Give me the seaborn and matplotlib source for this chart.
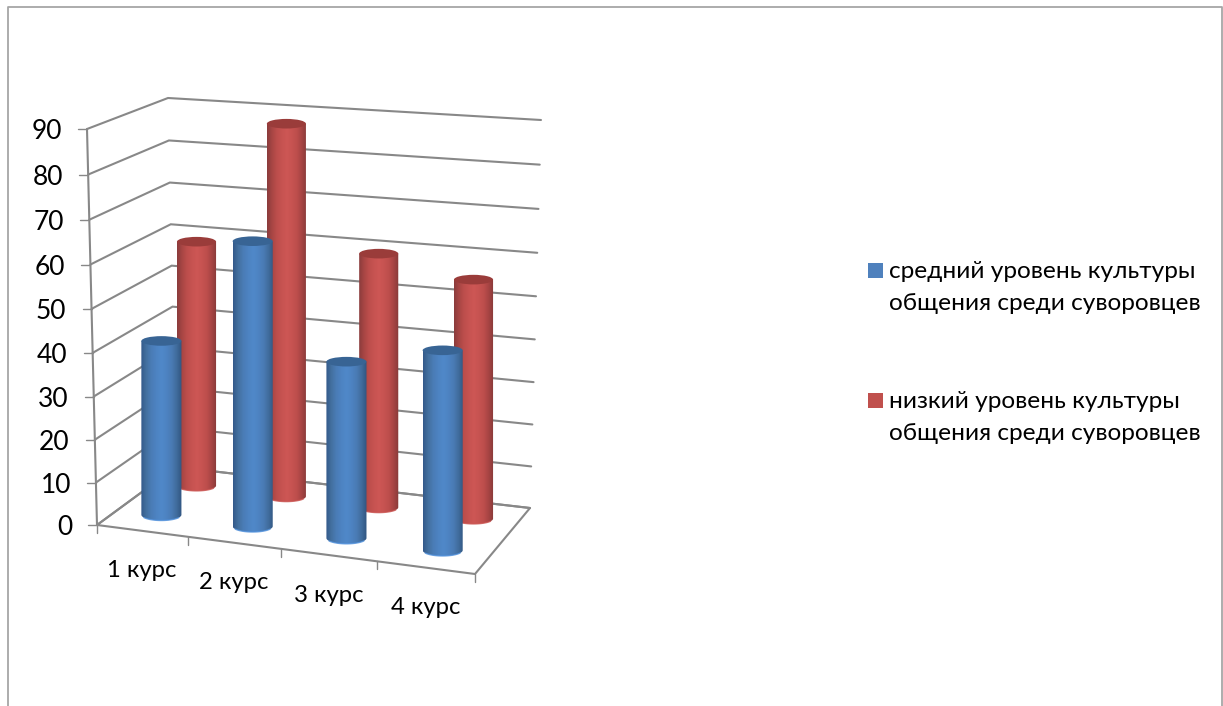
import numpy as np
import seaborn as sns
import matplotlib
matplotlib.use("Agg")
import matplotlib.pyplot as plt
from matplotlib.patches import Polygon, Ellipse, Rectangle

# ---- data -------------------------------------------------------------
categories = ["1 курс", "2 курс", "3 курс", "4 курс"]
series_names = ["средний уровень культуры\nобщения среди суворовцев",
                "низкий уровень культуры\nобщения среди суворовцев"]
medium_values = [41, 66, 41, 46]
low_values = [59, 88, 60, 56]
value_ticks = [0, 10, 20, 30, 40, 50, 60, 70, 80, 90]

# ---- style ------------------------------------------------------------
sns.set_theme(style="white")
FONT = ["Lato", "Open Sans", "DejaVu Sans"]
plt.rcParams["font.family"] = FONT
GRID = "#888888"
FRAME = "#a6a6a6"
BLUE = "#4f81bd"
RED = "#c0504d"

# ---- 3D box projection (pixel frame of the picture) --------------------
VMAX = 90.0
N = len(categories)
FL, FR, BR, BL = map(np.array, [(97., 525.), (475., 574.), (530., 508.), (176., 467.)])
H_FL, H_FR, H_BR, H_BL = 396., 405., 388., 369.
TILT_L_F, TILT_L_B, TILT_R_B = -10., -8., 11.
DEPTH = [0.27, 0.76]


def ease(u):
    x = u / N
    return 0.948 * x + 0.052 * x * x


def vwarp(v):
    t = v / VMAX
    return 0.96 * t + 0.04 * t * t


def floor(u, w):
    s = ease(u)
    return (1 - w) * ((1 - s) * FL + s * FR) + w * ((1 - s) * BL + s * BR)


def bar_u(i, w):
    # bars spread slightly wider toward the back of the box
    return N / 2 + (i + 0.5 - N / 2) * (1 + 0.035 * w)


def unit_height(u, w):
    s = ease(u)
    return (1 - w) * ((1 - s) * H_FL + s * H_FR) + w * ((1 - s) * H_BL + s * H_BR)


def wall(point, height, tilt, v):
    f = vwarp(v)
    return point + np.array([tilt * f, -height * f])


fig = plt.figure(figsize=(12.23, 7.06), dpi=100, facecolor="white")
ax = fig.add_axes([0, 0, 1, 1])
ax.set_xlim(0, 1223)
ax.set_ylim(706, 0)
ax.axis("off")

# outer chart frame
ax.plot([8, 8, 1222, 1222], [706, 7, 7, 706], color=FRAME, lw=1.3, zorder=1)

# walls
for v in value_ticks:
    a = wall(FL, H_FL, TILT_L_F, v)
    b = wall(BL, H_BL, TILT_L_B, v)
    c = wall(BR, H_BR, TILT_R_B, v)
    ax.plot([a[0], b[0], c[0]], [a[1], b[1], c[1]], color=GRID, lw=1.5, zorder=2,
            solid_joinstyle="miter")
    ax.plot([a[0] - 9, a[0]], [a[1], a[1]], color=GRID, lw=1.0, zorder=2)
    ax.text(a[0] - 25, a[1] + 2.5, str(v), ha="right", va="center", fontsize=19,
            color="black", zorder=6)
top = wall(FL, H_FL, TILT_L_F, VMAX)
ax.plot([FL[0], top[0]], [FL[1], top[1]], color=GRID, lw=1.5, zorder=2)

# floor
outline = np.array([FL, FR, BR, BL, FL])
ax.plot(outline[:, 0], outline[:, 1], color=GRID, lw=1.5, zorder=2)
for u in range(N + 1):
    p = floor(u, 0)
    ax.plot([p[0], p[0]], [p[1], p[1] + 8], color=GRID, lw=1.0, zorder=2)
for i, name in enumerate(categories):
    p = floor(i + 0.5, 0)
    ax.text(p[0], p[1] + 40, name, ha="center", va="center", fontsize=17.2,
            color="black", zorder=6)


def cylinder(u, w, value, body_cmap, cap, rim, z):
    c = floor(u, w)
    h = vwarp(value) * unit_height(u, w)
    rx, ry_base, ry_top = 20.3 - 1.0 * w, 6.0 - 1.0 * w, 4.8
    t = np.linspace(0, np.pi, 50)
    bottom = np.c_[c[0] + rx * np.cos(t), c[1] + ry_base * np.sin(t)]
    top_y = c[1] - h
    arc = np.c_[c[0] - rx * np.cos(t), np.full_like(t, top_y)]
    body = Polygon(np.vstack([bottom, arc]), closed=True, facecolor="none", edgecolor="none",
                   transform=ax.transData, zorder=z)
    ax.add_patch(body)
    im = ax.imshow(np.linspace(0, 1, 200)[None, :], cmap=body_cmap, vmin=0, vmax=1,
                   extent=(c[0] - rx, c[0] + rx, c[1] + ry_base + 1, top_y - 1),
                   aspect="auto", interpolation="bilinear", zorder=z)
    im.set_clip_path(body)
    ax.plot(bottom[8:42, 0], bottom[8:42, 1], color=rim, lw=1.0, alpha=0.8, zorder=z + 0.1)
    ax.add_patch(Ellipse((c[0], top_y), 2 * rx, 2 * ry_top, facecolor=cap,
                         edgecolor="none", zorder=z + 0.2))


blue_map = sns.blend_palette(["#33598a", "#43709f", "#4a7cb6", "#4d83c2", "#5088c9", "#4d83c2",
                              "#4a7bb4", "#406c9c", "#305580"], as_cmap=True)
red_map = sns.blend_palette(["#8a3c3c", "#a84644", "#bd4e4c", "#c75351", "#cd5755", "#c75351",
                             "#bd4e4c", "#a64443", "#863a39"], as_cmap=True)
for i, v in enumerate(low_values):
    cylinder(bar_u(i, DEPTH[1]), DEPTH[1], v, red_map, "#9a3c3a", "#c9504d", 3 + i * 0.5)
for i, v in enumerate(medium_values):
    cylinder(bar_u(i, DEPTH[0]), DEPTH[0], v, blue_map, "#386494", "#4f90dc", 5 + i * 0.1)

# legend
for name, col, y in zip(series_names, [BLUE, RED], [271, 401]):
    ax.add_patch(Rectangle((868, y - 8), 15, 15, facecolor=col, edgecolor="none", zorder=6))
    first, second = name.split("\n")
    ax.text(889, y + 1, first, ha="left", va="center", fontsize=17.6, color="black", zorder=6)
    ax.text(889, y + 33, second, ha="left", va="center", fontsize=17.6, color="black", zorder=6)

ax.set_xlim(0, 1223)
ax.set_ylim(706, 0)
fig.savefig("out.png", dpi=100, facecolor="white")
